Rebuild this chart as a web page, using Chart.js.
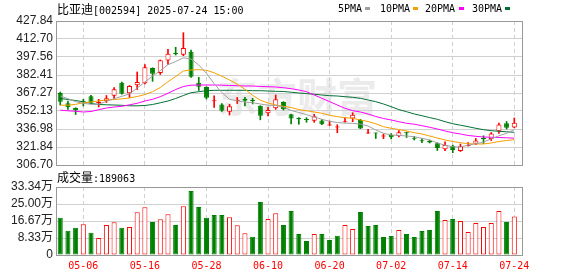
<!DOCTYPE html>
<html>
<head>
<meta charset="utf-8">
<script src="https://cdn.jsdelivr.net/npm/chart.js@4.4.1/dist/chart.umd.min.js"></script>
<style>
  body { margin: 0; background: #fff; }
  #wrap { position: relative; width: 578px; height: 276px; overflow: hidden; font-family: "DejaVu Sans Mono", monospace; }
  canvas { position: absolute; left: 0; top: 0; }
  .t { position: absolute; font-size: 10px; line-height: 12px; color: #000; white-space: nowrap; }
  .cjk { font-family: "Noto Sans CJK SC"; font-size: 12px; }
  .sw { position: absolute; width: 5px; height: 3px; top: 7px; }
  #wm { position: absolute; left: 217px; top: 66px; font: bold 40px "Noto Sans CJK SC"; color: #ebebeb; }
</style>
</head>
<body>
<div id="wrap">
  <div id="wm">东方财富</div>
  <canvas id="priceChart" width="578" height="276"></canvas>
  <canvas id="volChart" width="578" height="276"></canvas>
  <div class="t" style="left:57px;top:3px"><span class="cjk">比亚迪</span>[002594] 2025-07-24 15:00</div>
  <div class="t" style="left:338px;top:3px">5PMA</div>
  <div class="sw" style="left:365px;background:#a0a0a0"></div>
  <div class="t" style="left:380px;top:3px">10PMA</div>
  <div class="sw" style="left:413px;background:#f4a000"></div>
  <div class="t" style="left:425px;top:3px">20PMA</div>
  <div class="sw" style="left:459px;background:#ff00ff"></div>
  <div class="t" style="left:472px;top:3px">30PMA</div>
  <div class="sw" style="left:505px;background:#007035"></div>
  <div class="t" id="volLabel" style="left:57px;top:171px"></div>
</div>
<script>
const dates = [
  "04-28","04-29","04-30","05-06","05-07","05-08","05-09","05-12","05-13","05-14",
  "05-15","05-16","05-19","05-20","05-21","05-22","05-23","05-26","05-27","05-28",
  "05-29","05-30","06-03","06-04","06-05","06-06","06-09","06-10","06-11","06-12",
  "06-13","06-16","06-17","06-18","06-19","06-20","06-23","06-24","06-25","06-26",
  "06-27","06-30","07-01","07-02","07-03","07-04","07-07","07-08","07-09","07-10",
  "07-11","07-14","07-15","07-16","07-17","07-18","07-21","07-22","07-23","07-24"
];
const tickLabels = ["05-06","05-16","05-28","06-10","06-20","07-02","07-14","07-24"];
const priceTicks = [306.70, 321.84, 336.98, 352.13, 367.27, 382.41, 397.56, 412.70, 427.84];
const volTicks = [0, 83300, 166700, 250000, 333400];

const opens = [
  367.27, 358.60, 354.65, 360.40, 364.49, 358.60, 360.54, 365.00, 375.94, 367.02,
  373.75, 375.43, 388.30, 384.18, 394.61, 400.50, 399.49, 402.01, 375.94, 372.32,
  360.30, 357.60, 351.54, 360.50, 362.48, 361.00, 356.50, 350.19, 354.40, 359.70,
  349.43, 346.24, 344.90, 343.97, 344.14, 339.85, 338.17, 342.70, 345.82, 344.56,
  333.20, 333.53, 330.68, 331.94, 331.10, 333.96, 329.24, 327.06, 327.14, 324.96,
  319.91, 322.94, 318.48, 322.68, 324.53, 328.99, 328.49, 335.13, 341.78, 338.25
];
const closes = [
  359.95, 355.24, 352.72, 359.90, 359.11, 359.95, 362.81, 370.38, 366.60, 373.16,
  376.52, 388.89, 383.50, 394.78, 400.25, 400.08, 405.13, 380.98, 372.57, 363.23,
  361.00, 352.29, 356.08, 361.10, 360.79, 360.60, 348.09, 352.97, 361.97, 353.56,
  345.82, 345.15, 344.50, 347.67, 340.94, 340.18, 338.50, 343.04, 348.93, 337.41,
  333.53, 333.12, 331.01, 330.00, 334.29, 333.45, 328.74, 326.64, 325.63, 321.00,
  323.53, 319.32, 322.43, 323.36, 327.31, 328.65, 333.28, 340.77, 338.08, 342.20
];
const highs = [
  368.10, 360.50, 354.90, 361.97, 365.33, 361.97, 365.17, 371.90, 376.50, 373.58,
  384.94, 391.25, 388.50, 395.03, 404.03, 405.72, 418.00, 403.44, 380.48, 372.50,
  364.91, 358.44, 357.76, 363.48, 363.65, 362.81, 356.60, 355.24, 365.59, 360.00,
  349.60, 346.50, 346.50, 349.35, 345.15, 343.70, 340.60, 346.50, 350.70, 345.15,
  336.73, 333.62, 332.78, 333.03, 335.72, 334.46, 330.68, 328.99, 327.73, 325.46,
  326.20, 323.53, 324.37, 325.46, 328.99, 331.27, 334.04, 342.03, 343.29, 346.24
];
const lows = [
  357.17, 353.55, 349.18, 356.33, 358.60, 355.50, 359.28, 362.23, 366.20, 363.48,
  370.20, 374.84, 377.10, 382.80, 391.41, 399.24, 398.65, 380.48, 369.37, 362.20,
  355.24, 351.70, 348.76, 358.44, 356.33, 358.02, 344.72, 347.92, 353.56, 352.97,
  341.19, 340.94, 342.62, 342.62, 340.60, 339.85, 333.87, 342.70, 343.13, 337.24,
  333.20, 329.00, 328.83, 328.57, 330.42, 329.84, 327.73, 325.46, 325.21, 318.90,
  318.73, 317.05, 318.06, 322.51, 323.78, 324.79, 327.31, 333.37, 336.98, 338.00
];

const ma5 = [
  364.75, 362.47, 359.95, 358.61, 357.77, 357.77, 360.29, 362.47, 364.49, 366.43,
  371.47, 376.52, 381.57, 386.03, 391.08, 393.77, 396.88, 395.87, 390.82, 383.84,
  375.09, 367.69, 361.97, 360.71, 359.70, 359.11, 358.01, 357.01, 356.75, 355.49,
  352.55, 350.87, 349.02, 347.08, 345.15, 343.46, 342.45, 341.87, 341.78, 341.02,
  339.51, 336.14, 333.37, 331.94, 331.60, 331.10, 330.51, 329.16, 327.73, 325.29,
  323.27, 322.09, 321.76, 323.44, 324.61, 325.88, 328.74, 331.27, 333.37, 336.56
];
const ma10 = [
  357.01, 357.01, 357.68, 359.11, 359.70, 360.71, 361.38, 361.72, 362.39, 363.07,
  364.33, 365.93, 368.37, 371.90, 376.78, 381.15, 385.78, 386.62, 386.87, 386.37,
  384.27, 381.41, 378.21, 374.68, 370.47, 365.34, 361.22, 358.86, 357.18, 356.09,
  355.08, 353.31, 352.30, 351.29, 350.20, 348.51, 347.42, 346.49, 345.99, 344.56,
  343.30, 341.36, 338.92, 337.58, 336.48, 335.31, 333.88, 332.78, 331.10, 329.42,
  327.73, 326.47, 325.46, 324.62, 324.37, 324.37, 325.21, 326.47, 327.31, 327.99
];
const ma20 = [
  352.80, 352.30, 351.88, 351.29, 351.71, 353.22, 354.65, 355.49, 356.09, 357.34,
  358.61, 360.54, 361.97, 364.16, 367.02, 370.21, 372.74, 373.83, 374.00, 374.00,
  374.00, 373.83, 373.58, 373.41, 373.16, 373.16, 372.74, 372.57, 372.32, 371.73,
  370.89, 369.79, 368.37, 365.59, 362.81, 359.95, 357.18, 354.40, 352.38, 351.29,
  349.61, 347.50, 345.82, 344.56, 343.13, 341.78, 341.03, 339.76, 338.42, 336.99,
  335.31, 333.88, 332.78, 331.52, 330.85, 330.26, 330.01, 329.84, 329.59, 329.25
];
const ma30 = [
  362.65, 361.81, 360.96, 359.87, 358.44, 357.60, 357.34, 357.18, 356.92, 356.50,
  356.50, 356.75, 357.60, 359.03, 360.54, 362.65, 365.17, 367.52, 368.37, 369.21,
  369.54, 369.54, 369.54, 369.54, 369.54, 369.21, 369.21, 368.95, 368.70, 368.53,
  367.95, 367.27, 366.77, 366.18, 365.59, 365.00, 364.75, 364.16, 363.65, 362.81,
  361.38, 359.95, 358.01, 355.75, 353.31, 351.54, 349.61, 348.17, 346.57, 345.15,
  343.13, 341.44, 340.18, 338.92, 337.58, 336.40, 335.56, 335.05, 334.63, 334.21
];

const volumes = [
  182900, 119100, 133900, 150500, 109300, 83400, 147100, 160300, 133900, 137300,
  209400, 233900, 161800, 175000, 199500, 147100, 238800, 313800, 235300, 182900,
  196100, 196100, 184800, 145600, 106400, 89700, 259900, 176500, 204400, 147100,
  215700, 103000, 68600, 103000, 103000, 73500, 94600, 147100, 127500, 210800,
  142200, 147100, 88300, 93200, 122600, 103000, 88300, 117700, 122600, 215700,
  171600, 176500, 166700, 112800, 156900, 137300, 156900, 215700, 161800, 189063
];
// 1 = red (hollow) volume bar, 0 = green
const volUp = [
  0, 0, 0, 1, 0, 1, 1, 1, 0, 1,
  1, 1, 0, 1, 1, 0, 1, 0, 0, 0,
  0, 0, 1, 1, 1, 0, 0, 1, 1, 0,
  0, 0, 0, 1, 0, 0, 0, 1, 1, 0,
  0, 0, 0, 0, 1, 0, 0, 0, 0, 0,
  1, 0, 1, 1, 1, 1, 1, 1, 0, 1
];

const RED = "#ff0000";
const GREEN = "#008000";
const GRID = "#d0d0d0";
const FRAME = "#999999";

const tickIdx = tickLabels.map(d => dates.indexOf(d));
const isUp = i => closes[i] > opens[i];

const frame = {
  id: "frame",
  afterDraw(chart) {
    const { ctx, chartArea: a } = chart;
    ctx.save();
    ctx.strokeStyle = FRAME;
    ctx.lineWidth = 1;
    ctx.strokeRect(a.left + 0.5, a.top + 0.5, a.width, a.height);
    ctx.restore();
  }
};

const xBase = {
  type: "linear",
  min: -0.55,
  max: 60.0,
  offset: false,
  grid: { color: GRID, drawTicks: false, offset: false },
  border: { display: false, dash: [4, 3] },
  afterBuildTicks: s => { s.ticks = tickIdx.map(v => ({ value: v })); }
};

const yFont = { family: "'Liberation Sans', 'Noto Sans CJK SC'", size: 12 };

function maLine(values, color) {
  return {
    type: "line",
    data: values.map((v, i) => ({ x: i, y: v })),
    borderColor: color,
    borderWidth: 1,
    pointRadius: 0,
    tension: 0,
    order: 0
  };
}

new Chart(document.getElementById("priceChart"), {
  type: "bar",
  data: {
    datasets: [
      maLine(ma5, "#a0a0a0"),
      maLine(ma10, "#f4a000"),
      maLine(ma20, "#ff00ff"),
      maLine(ma30, "#007035"),
      {
        // candle bodies
        data: opens.map((o, i) => ({ x: i, y: [o, closes[i]] })),
        grouped: false,
        categoryPercentage: 1,
        barPercentage: 0.66,
        minBarLength: 1,
        borderWidth: 1,
        borderSkipped: false,
        borderColor: c => (c.dataIndex === undefined || isUp(c.dataIndex)) ? RED : GREEN,
        backgroundColor: c => {
          const i = c.dataIndex;
          if (i === undefined) return "#fff";
          if (!isUp(i)) return GREEN;
          return Math.abs(closes[i] - opens[i]) < 1 ? RED : "#fff";
        },
        order: 1
      },
      {
        // wicks
        data: lows.map((l, i) => ({ x: i, y: [l, highs[i]] })),
        grouped: false,
        barThickness: 1,
        borderWidth: 0,
        backgroundColor: c => (c.dataIndex === undefined || isUp(c.dataIndex)) ? RED : GREEN,
        order: 2
      }
    ]
  },
  options: {
    responsive: false,
    animation: false,
    devicePixelRatio: 1,
    layout: { padding: { left: 0, right: 56, top: 21, bottom: 111 } },
    plugins: { legend: { display: false }, tooltip: { enabled: false } },
    scales: {
      x: Object.assign({}, xBase, {
        ticks: { display: false },
        afterFit: s => { s.height = 0; }
      }),
      y: {
        min: priceTicks[0],
        max: priceTicks[priceTicks.length - 1],
        grid: { color: GRID, drawTicks: false },
        border: { display: false },
        ticks: {
          autoSkip: false,
          padding: 3,
          color: "#222",
          font: yFont,
          callback: v => v.toFixed(2)
        },
        afterBuildTicks: s => { s.ticks = priceTicks.map(v => ({ value: v })); },
        afterFit: s => { s.width = 56; }
      }
    }
  },
  plugins: [frame]
});

new Chart(document.getElementById("volChart"), {
  type: "bar",
  data: {
    datasets: [{
      data: volumes.map((v, i) => ({ x: i, y: v })),
      grouped: false,
      categoryPercentage: 1,
      barPercentage: 0.66,
      borderWidth: 1,
      borderSkipped: false,
      borderColor: volUp.map(u => u ? RED : GREEN),
      backgroundColor: volUp.map(u => u ? "#fff" : GREEN)
    }]
  },
  options: {
    responsive: false,
    animation: false,
    devicePixelRatio: 1,
    layout: { padding: { left: 0, right: 56, top: 187, bottom: 0 } },
    plugins: { legend: { display: false }, tooltip: { enabled: false } },
    scales: {
      x: Object.assign({}, xBase, {
        ticks: {
          autoSkip: false,
          maxRotation: 0,
          padding: 5,
          color: RED,
          font: { family: "'DejaVu Sans Mono'", size: 10 },
          callback: v => dates[v]
        },
        afterFit: s => { s.height = 21; }
      }),
      y: {
        min: 0,
        max: volTicks[volTicks.length - 1],
        grid: { color: GRID, drawTicks: false },
        border: { display: false },
        ticks: {
          autoSkip: false,
          padding: 3,
          color: "#222",
          font: yFont,
          callback: v => v === 0 ? "0" : (v / 10000).toFixed(2) + "万"
        },
        afterBuildTicks: s => { s.ticks = volTicks.map(v => ({ value: v })); },
        afterFit: s => { s.width = 56; }
      }
    }
  },
  plugins: [frame]
});

document.getElementById("volLabel").innerHTML =
  '<span class="cjk">成交量</span>:' + volumes[volumes.length - 1];
</script>
</body>
</html>
